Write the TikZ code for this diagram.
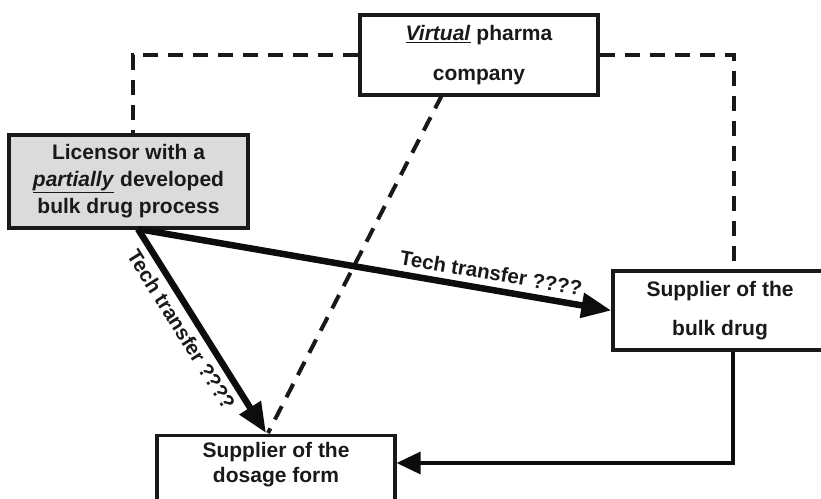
\documentclass[tikz,border=0pt]{standalone}
\usepackage{fontspec}
\setmainfont{Liberation Sans}
\usetikzlibrary{arrows.meta}
\begin{document}
\begin{tikzpicture}[x=1pt,y=-1pt,
  box/.style={draw=black!90, line width=3.2pt, align=center, inner sep=0pt, text=black!90,
    font=\bfseries\fontsize{21}{27}\selectfont},
  boxtext/.style={align=center, inner sep=0pt, text=black!90, font=\bfseries\fontsize{21}{25}\selectfont},
  dline/.style={draw=black!90, line width=4pt, dash pattern=on 15pt off 10pt},
  bigarrow/.style={draw=black!95, line width=6.5pt, -{Triangle[length=30pt,width=24pt]}},
  thinarrow/.style={draw=black!95, line width=3.4pt, -{Triangle[length=24pt,width=22pt]}},
  lbl/.style={font=\bfseries\fontsize{20.5}{24}\selectfont, text=black!90, sloped, inner sep=6pt}]
\useasboundingbox (0,0) rectangle (821,498);
\clip (0,0) rectangle (821,498);

\node[box, minimum width=238pt, minimum height=80pt, font=\bfseries\fontsize{21}{40}\selectfont]
  (virt) at (479,55) {\underline{\textit{Virtual}} pharma\\company};
\node[box, fill=black!14, minimum width=239pt, minimum height=93pt]
  (lic) at (128.5,181.5) {Licensor with a\\\underline{\textit{partially}} developed\\bulk drug process};
\node[box, minimum width=214pt, minimum height=79pt, font=\bfseries\fontsize{21}{39}\selectfont]
  (bulk) at (720,310.5) {Supplier of the\\bulk drug};
\node[box, minimum width=238pt, minimum height=90pt, anchor=north] (dose) at (276,434) {};
\node[boxtext] (dosetext) at (276,465) {Supplier of the\\dosage form};

\coordinate (ls) at (138,229);
\coordinate (dtop) at (266,433);
\coordinate (ltop) at (133,135);
\coordinate (btop) at (734,271);
\coordinate (bd) at (733,463);
\coordinate (vb) at (442,95);
\coordinate (dd) at (268,433);

% dashed links
\draw[dline] (virt.west) -| (ltop);
\draw[dline] (virt.east) -| (btop);
\draw[dline] (vb) -- (dd);

% tech transfer arrows
\draw[bigarrow] (ls) -- node[lbl, pos=0.74, above] {Tech transfer ????} (bulk.west);
\draw[bigarrow] (ls) -- node[lbl, pos=0.45, below] {Tech transfer ????} (dtop);

% bulk to dosage
\draw[thinarrow] (bulk.south -| bd) |- (dose.east |- bd);
\end{tikzpicture}
\end{document}
